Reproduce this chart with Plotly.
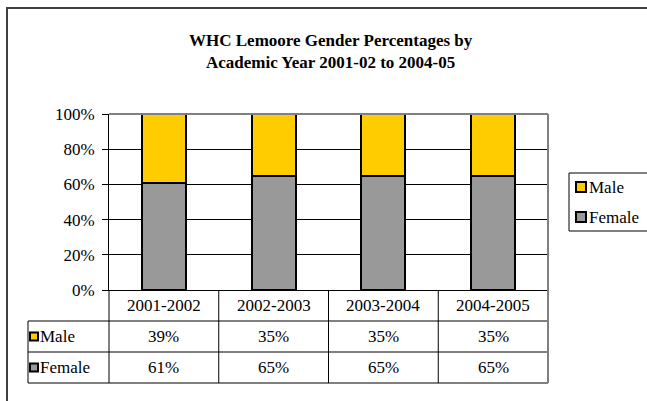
import plotly.graph_objects as go

categories = ["2001-2002", "2002-2003", "2003-2004", "2004-2005"]
female = [61, 65, 65, 65]
male = [39, 35, 35, 35]
series_names = ["Male", "Female"]
yticks = [0, 20, 40, 60, 80, 100]
ytick_labels = ["0%", "20%", "40%", "60%", "80%", "100%"]
title_text = "<b>WHC Lemoore Gender Percentages by<br>Academic Year 2001-02 to 2004-05</b>"

YELLOW = "#FFCC00"
GRAY = "#999999"
FONT = "Liberation Serif"
FS = 17

W, H = 647, 401
L, R, T, B = 109, 548, 114, 290  # plot area in pixels


def px(x):
    return (x - L) / (R - L)


def py(y):
    return (B - y) / (B - T)


fig = go.Figure()
fig.add_trace(go.Bar(x=categories, y=female, name="Female", marker=dict(color=GRAY, line=dict(color="black", width=2)),
                     width=0.4, showlegend=False))
fig.add_trace(go.Bar(x=categories, y=male, name="Male", marker=dict(color=YELLOW, line=dict(color="black", width=2)),
                     width=0.4, showlegend=False))

shapes = []
# outer chart frame (top and left edges visible)
shapes.append(dict(type="line", xref="paper", yref="paper", x0=px(6), x1=px(647), y0=py(8), y1=py(8),
                   line=dict(color="#404040", width=2)))
shapes.append(dict(type="line", xref="paper", yref="paper", x0=px(7), x1=px(7), y0=py(7), y1=py(401),
                   line=dict(color="#404040", width=2)))
# plot area border (top, right)
shapes.append(dict(type="line", xref="paper", yref="paper", x0=0, x1=1, y0=1, y1=1, line=dict(color="#808080", width=2)))
shapes.append(dict(type="line", xref="paper", yref="paper", x0=1, x1=1, y0=0, y1=1, line=dict(color="#808080", width=2)))

# table rows
row_h = 31
row_centers = [B + row_h * 0.5, B + row_h * 1.5, B + row_h * 2.5]
tbl_left = 28
for k in (1, 2, 3):
    yy = B + row_h * k
    shapes.append(dict(type="line", xref="paper", yref="paper", x0=px(tbl_left), x1=1, y0=py(yy), y1=py(yy),
                       line=dict(color="black", width=1)))
shapes.append(dict(type="line", xref="paper", yref="paper", x0=px(tbl_left), x1=px(tbl_left), y0=py(B + row_h), y1=py(B + 3 * row_h),
                   line=dict(color="black", width=1)))
n = len(categories)
for k in range(n + 1):
    shapes.append(dict(type="line", xref="paper", yref="paper", x0=k / n, x1=k / n, y0=0, y1=py(B + 3 * row_h),
                       line=dict(color="black" if k < n else "#808080", width=1 if k < n else 2)))

annotations = []
annotations.append(dict(text=title_text, xref="paper", yref="paper", x=px(331), y=py(51.5), xanchor="center",
                        yanchor="middle", showarrow=False, font=dict(family=FONT, size=FS, color="black")))
for c in categories:
    annotations.append(dict(text=c, xref="x", yref="paper", x=c, y=py(row_centers[0]), showarrow=False,
                            xanchor="center", yanchor="middle", font=dict(family=FONT, size=FS, color="black")))
for name, vals, color, yc in [("Male", male, YELLOW, row_centers[1]), ("Female", female, GRAY, row_centers[2])]:
    for c, v in zip(categories, vals):
        annotations.append(dict(text=f"{v}%", xref="x", yref="paper", x=c, y=py(yc), showarrow=False,
                                xanchor="center", yanchor="middle", font=dict(family=FONT, size=FS, color="black")))
    annotations.append(dict(text=name, xref="paper", yref="paper", x=px(40), y=py(yc), showarrow=False,
                            xanchor="left", yanchor="middle", xshift=-2, font=dict(family=FONT, size=FS, color="black")))
    shapes.append(dict(type="rect", xref="paper", yref="paper", x0=px(30), x1=px(38), y0=py(yc - 4), y1=py(yc + 4),
                       line=dict(color="black", width=2), fillcolor=color))

# legend (drawn as box + keys + labels)
shapes.append(dict(type="rect", xref="paper", yref="paper", x0=px(569), x1=px(652), y0=py(173), y1=py(231),
                   line=dict(color="black", width=1), fillcolor="white"))
for name, color, yc in [("Male", YELLOW, 187), ("Female", GRAY, 217)]:
    shapes.append(dict(type="rect", xref="paper", yref="paper", x0=px(576), x1=px(586), y0=py(yc - 5), y1=py(yc + 5),
                       line=dict(color="black", width=2), fillcolor=color))
    annotations.append(dict(text=name, xref="paper", yref="paper", x=px(589), y=py(yc), showarrow=False,
                            xanchor="left", yanchor="middle", xshift=-2, font=dict(family=FONT, size=FS, color="black")))

fig.update_layout(
    width=W, height=H,
    margin=dict(l=L, r=W - R, t=T, b=H - B, autoexpand=False),
    barmode="stack",
    paper_bgcolor="white", plot_bgcolor="white",
    font=dict(family=FONT, size=FS, color="black"),
    showlegend=False,
    xaxis=dict(showticklabels=False, showline=True, linecolor="black", linewidth=1, ticks="", showgrid=False,
               zeroline=False, fixedrange=True),
    yaxis=dict(range=[0, 100], tickvals=yticks, ticktext=ytick_labels, showline=True, linecolor="black",
               linewidth=1, ticks="outside", ticklen=6, tickcolor="black", tickwidth=1, showgrid=True,
               gridcolor="black", gridwidth=1, zeroline=False, ticklabelstandoff=4,
               tickfont=dict(family=FONT, size=FS, color="black")),
    shapes=shapes,
    annotations=annotations,
)

fig.write_html("out.html", config={"displayModeBar": False})
